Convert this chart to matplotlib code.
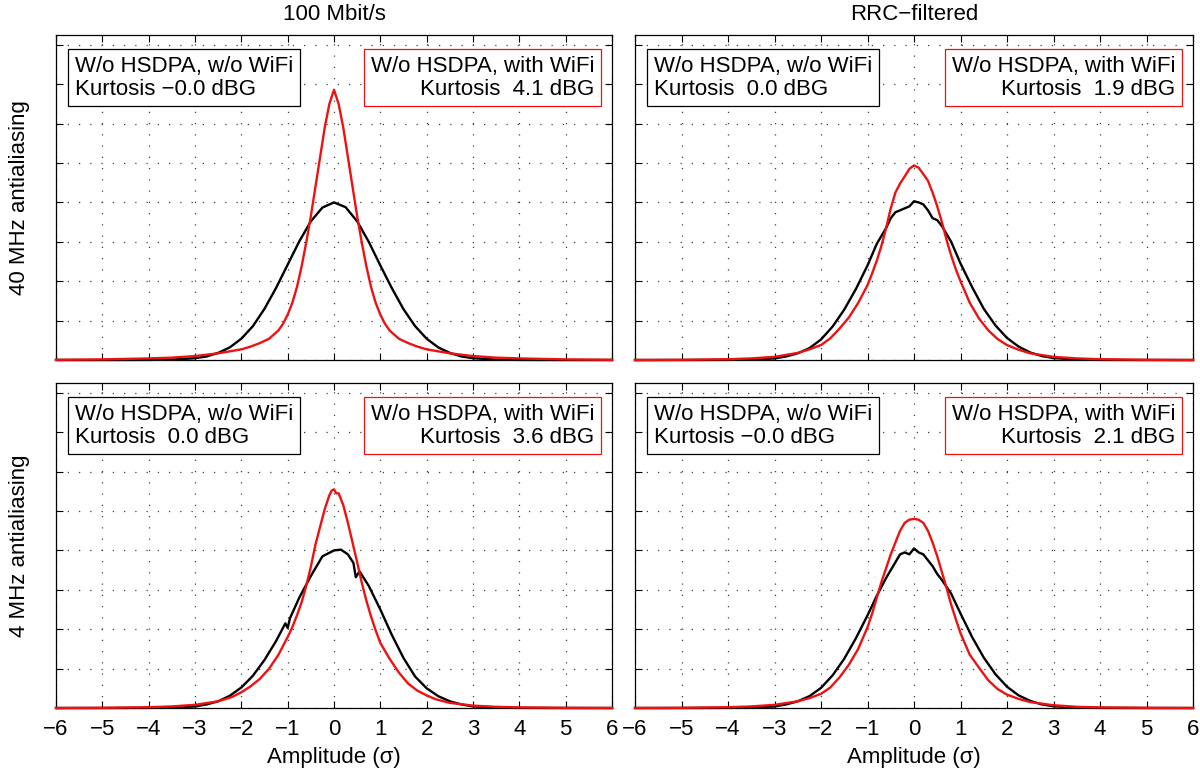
import matplotlib
matplotlib.use('Agg')
from matplotlib import pyplot as plt

plt.rcParams['font.family'] = ['Liberation Sans', 'DejaVu Sans']

# Titulos das colunas e linhas
col_titles = ['100 Mbit/s', 'RRC\u2212filtered']
row_labels = ['40 MHz antialiasing', '4 MHz antialiasing']

# Curtose (dBG) de cada painel: [linha][coluna]
kurt_black = [[-0.0, 0.0], [0.0, -0.0]]
kurt_red = [[4.1, 1.9], [3.6, 2.1]]
black_label = 'W/o HSDPA, w/o WiFi'
red_label = 'W/o HSDPA, with WiFi'

# --- 40 MHz, 100 Mbit/s ---
x_tl_k = [-6, -5, -4, -3.5, -3, -2.75, -2.5, -2.25, -2, -1.75, -1.5, -1.25, -1, -0.75, -0.5, -0.25, 0,
          0.25, 0.5, 0.75, 1, 1.25, 1.5, 1.75, 2, 2.25, 2.5, 2.75, 3, 3.5, 4, 5, 6]
y_tl_k = [0, 0, 0.0002, 0.001, 0.0045, 0.009, 0.018, 0.032, 0.054, 0.086, 0.130, 0.183, 0.242, 0.301, 0.352, 0.387, 0.400,
          0.388, 0.352, 0.300, 0.240, 0.182, 0.129, 0.086, 0.054, 0.032, 0.018, 0.009, 0.0045, 0.001, 0.0002, 0, 0]
x_tl_r = [-6, -5, -4, -3.5, -3, -2.5, -2, -1.8, -1.6, -1.4, -1.2, -1.1, -1, -0.9, -0.8, -0.7, -0.6, -0.5, -0.4, -0.3, -0.2, -0.1, 0,
          0.1, 0.2, 0.3, 0.4, 0.5, 0.6, 0.7, 0.8, 0.9, 1, 1.1, 1.2, 1.4, 1.6, 1.8, 2, 2.5, 3, 3.5, 4, 5, 6]
y_tl_r = [0.0005, 0.0015, 0.004, 0.006, 0.010, 0.017, 0.027, 0.034, 0.043, 0.054, 0.075, 0.092, 0.115, 0.145, 0.185, 0.237, 0.298, 0.365, 0.44, 0.515, 0.59, 0.65, 0.686,
          0.65, 0.59, 0.515, 0.44, 0.365, 0.298, 0.237, 0.185, 0.145, 0.115, 0.092, 0.075, 0.054, 0.043, 0.034, 0.027, 0.017, 0.010, 0.006, 0.004, 0.0015, 0.0005]

# --- 40 MHz, RRC ---
x_tr_k = [-6, -5, -4, -3.5, -3, -2.75, -2.5, -2.25, -2, -1.75, -1.5, -1.25, -1, -0.8, -0.6, -0.5, -0.4, -0.3, -0.2, -0.1, 0,
          0.1, 0.2, 0.3, 0.4, 0.5, 0.6, 0.8, 1, 1.25, 1.5, 1.75, 2, 2.25, 2.5, 2.75, 3, 3.5, 4, 5, 6]
y_tr_k = [0, 0, 0.0003, 0.001, 0.004, 0.009, 0.017, 0.030, 0.052, 0.085, 0.128, 0.180, 0.240, 0.295, 0.335, 0.360, 0.375, 0.380, 0.385, 0.390, 0.403,
          0.400, 0.395, 0.380, 0.360, 0.355, 0.340, 0.300, 0.245, 0.185, 0.130, 0.088, 0.056, 0.034, 0.019, 0.010, 0.005, 0.001, 0.0003, 0, 0]
x_tr_r = [-6, -5, -4, -3.5, -3, -2.5, -2.25, -2, -1.8, -1.6, -1.4, -1.2, -1, -0.9, -0.8, -0.7, -0.6, -0.5, -0.4, -0.3, -0.2, -0.1, 0,
          0.1, 0.2, 0.3, 0.4, 0.5, 0.6, 0.7, 0.8, 0.9, 1, 1.2, 1.4, 1.6, 1.8, 2, 2.25, 2.5, 3, 3.5, 4, 5, 6]
y_tr_r = [0, 0.0005, 0.002, 0.004, 0.008, 0.018, 0.027, 0.038, 0.055, 0.080, 0.108, 0.145, 0.190, 0.220, 0.252, 0.290, 0.335, 0.385, 0.425, 0.448, 0.466, 0.485, 0.494,
          0.488, 0.472, 0.455, 0.425, 0.390, 0.350, 0.305, 0.265, 0.230, 0.200, 0.145, 0.105, 0.075, 0.053, 0.038, 0.026, 0.017, 0.008, 0.004, 0.002, 0.0005, 0]

# --- 4 MHz, 100 Mbit/s ---
x_bl_k = [-6, -5, -4, -3.5, -3, -2.75, -2.5, -2.25, -2, -1.75, -1.5, -1.25, -1.05, -1.0, -0.95, -0.75, -0.5, -0.25, 0,
          0.15, 0.3, 0.42, 0.47, 0.55, 0.75, 1, 1.25, 1.5, 1.75, 2, 2.25, 2.5, 2.75, 3, 3.5, 4, 5, 6]
y_bl_k = [0, 0, 0.0003, 0.001, 0.004, 0.009, 0.017, 0.031, 0.052, 0.082, 0.122, 0.170, 0.215, 0.203, 0.228, 0.280, 0.335, 0.385, 0.400,
          0.402, 0.390, 0.368, 0.332, 0.347, 0.310, 0.250, 0.185, 0.127, 0.080, 0.050, 0.030, 0.017, 0.009, 0.004, 0.001, 0.0003, 0, 0]
x_bl_r = [-6, -5, -4, -3.5, -3, -2.5, -2.2, -2, -1.8, -1.6, -1.4, -1.2, -1, -0.9, -0.8, -0.7, -0.6, -0.5, -0.4, -0.3, -0.2, -0.1, -0.05, 0,
          0.05, 0.1, 0.2, 0.3, 0.4, 0.5, 0.6, 0.7, 0.8, 0.9, 1, 1.2, 1.4, 1.6, 1.8, 2, 2.2, 2.5, 3, 3.5, 4, 5, 6]
y_bl_r = [0, 0.0005, 0.002, 0.004, 0.008, 0.017, 0.028, 0.040, 0.055, 0.074, 0.100, 0.135, 0.180, 0.205, 0.235, 0.268, 0.310, 0.358, 0.415, 0.460, 0.505, 0.540, 0.552, 0.555,
          0.545, 0.545, 0.515, 0.470, 0.420, 0.370, 0.318, 0.272, 0.232, 0.197, 0.165, 0.125, 0.090, 0.062, 0.044, 0.032, 0.022, 0.013, 0.006, 0.003, 0.0015, 0.0005, 0]

# --- 4 MHz, RRC ---
x_br_k = [-6, -5, -4, -3.5, -3, -2.75, -2.5, -2.25, -2, -1.75, -1.5, -1.25, -1, -0.8, -0.6, -0.4, -0.3, -0.2, -0.1, 0,
          0.1, 0.2, 0.3, 0.4, 0.5, 0.6, 0.8, 1, 1.25, 1.5, 1.75, 2, 2.25, 2.5, 2.75, 3, 3.5, 4, 5, 6]
y_br_k = [0, 0, 0.0003, 0.001, 0.004, 0.009, 0.017, 0.030, 0.051, 0.083, 0.125, 0.177, 0.235, 0.285, 0.330, 0.370, 0.390, 0.395, 0.390, 0.405,
          0.395, 0.390, 0.375, 0.360, 0.340, 0.325, 0.290, 0.240, 0.180, 0.128, 0.086, 0.054, 0.032, 0.018, 0.009, 0.0045, 0.001, 0.0003, 0, 0]
x_br_r = [-6, -5, -4, -3.5, -3, -2.5, -2.25, -2, -1.8, -1.6, -1.4, -1.2, -1, -0.9, -0.8, -0.7, -0.6, -0.5, -0.4, -0.3, -0.2, -0.1, 0,
          0.1, 0.2, 0.3, 0.4, 0.5, 0.6, 0.7, 0.8, 0.9, 1, 1.2, 1.4, 1.6, 1.8, 2, 2.25, 2.5, 3, 3.5, 4, 5, 6]
y_br_r = [0, 0.0005, 0.002, 0.004, 0.008, 0.017, 0.025, 0.036, 0.052, 0.078, 0.110, 0.150, 0.205, 0.240, 0.280, 0.320, 0.355, 0.390, 0.420, 0.450, 0.470, 0.478, 0.480,
          0.478, 0.470, 0.450, 0.420, 0.385, 0.345, 0.305, 0.262, 0.225, 0.190, 0.135, 0.102, 0.070, 0.048, 0.034, 0.023, 0.015, 0.007, 0.003, 0.0015, 0.0005, 0]

curves = [[((x_tl_k, y_tl_k), (x_tl_r, y_tl_r)), ((x_tr_k, y_tr_k), (x_tr_r, y_tr_r))],
          [((x_bl_k, y_bl_k), (x_bl_r, y_bl_r)), ((x_br_k, y_br_k), (x_br_r, y_br_r))]]

x_ticks = list(range(-6, 7))
y_ticks = [0.1 * i for i in range(9)]

fig = plt.figure(figsize=(12, 7.8), dpi=100)
W, H = 1200.0, 780.0
lefts = [56, 635]
widths = [556, 558]
tops = [35, 383]
h = 325

red = '#ee1111'
fs = 16

for r in range(2):
    for c in range(2):
        ax = fig.add_axes([lefts[c] / W, 1 - (tops[r] + h) / H, widths[c] / W, h / H])
        (xk, yk), (xr, yr) = curves[r][c]
        ax.plot(xk, yk, color='black', lw=1.7, zorder=3, clip_on=False)
        ax.plot(xr, yr, color=red, lw=1.7, zorder=4, clip_on=False)

        ax.set_xlim(-6, 6)
        ax.set_ylim(0, 0.825)
        ax.set_xticks(x_ticks)
        ax.set_yticks(y_ticks)
        ax.set_yticklabels([])
        ax.tick_params(direction='in', length=5, width=0.8, top=True, right=True,
                       labelsize=fs, pad=8)
        if r == 0:
            ax.set_xticklabels([])
        ax.grid(True, color='0.25', linestyle=(0, (1, 8)), linewidth=0.9)
        for s in ax.spines.values():
            s.set_linewidth(0.9)

        # caixas de texto
        kb = ('%4.1f' % kurt_black[r][c]).replace('-', '\u2212')
        kr = ('%4.1f' % kurt_red[r][c]).replace('-', '\u2212')
        ax.text(0.034, 0.935, black_label + '\nKurtosis ' + kb + ' dBG', transform=ax.transAxes,
                fontsize=fs, ha='left', va='top', linespacing=1.1, zorder=6,
                bbox=dict(boxstyle='square,pad=0.3', fc='white', ec='black', lw=0.9))
        ax.text(0.968, 0.935, red_label + '\nKurtosis ' + kr + ' dBG', transform=ax.transAxes,
                fontsize=fs, ha='right', va='top', multialignment='right', linespacing=1.1, zorder=6,
                bbox=dict(boxstyle='square,pad=0.3', fc='white', ec=red, lw=0.9))

        if r == 1:
            fig.text((lefts[c] + widths[c] / 2) / W, 1 - 757 / H, 'Amplitude (\u03c3)',
                     ha='center', va='center', fontsize=fs)

# titulos e rotulos
for c in range(2):
    fig.text((lefts[c] + widths[c] / 2) / W, 1 - 15 / H, col_titles[c], ha='center', va='center', fontsize=fs)
for r in range(2):
    fig.text(20 / W, 1 - (tops[r] + h / 2) / H, row_labels[r], rotation=90, ha='center', va='center', fontsize=fs)

plt.savefig('out.png', dpi=100)
